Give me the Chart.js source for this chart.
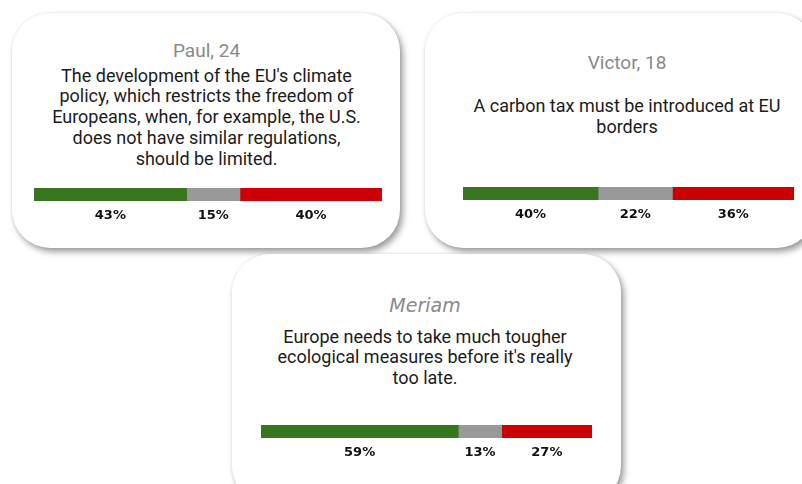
<!DOCTYPE html>
<html>
<head>
<meta charset="utf-8">
<script src="https://cdn.jsdelivr.net/npm/chart.js@4/dist/chart.umd.min.js"></script>
<style>
  html, body { margin:0; padding:0; background:#fff; }
  body { width:802px; height:484px; position:relative; overflow:hidden; font-family:Roboto, sans-serif; }
  .card { position:absolute; background:#fff; border-radius:38px;
          box-shadow: 3px 4px 6px rgba(0,0,0,.38), 0 0 3px rgba(0,0,0,.10); }
  .who  { position:absolute; text-align:center; color:#8a8a8a; font-size:19px; line-height:22px; }
  .says { position:absolute; text-align:center; color:#1c1c1c; font-size:18px; white-space:pre-line; }
  .bar  { position:absolute; }
</style>
</head>
<body>
<div id="root"></div>
<script>
'use strict';

const people     = ['Paul, 24', 'Victor, 18', 'Meriam'];
const statements = [
  "The development of the EU's climate\npolicy, which restricts the freedom of\nEuropeans, when, for example, the U.S.\ndoes not have similar regulations,\nshould be limited.",
  "A carbon tax must be introduced at EU\nborders",
  "Europe needs to take much tougher\necological measures before it's really\ntoo late."
];
const agree    = [43, 40, 59];
const neutral  = [15, 22, 13];
const disagree = [40, 36, 27];

// card layout (page px)
const cards = [
  { left:12,  top:13,  w:388, h:235, cx:194.5, nameTop:26.5, textTop:52.5, lh:20.8, bar:{x:22, y:175, w:348}, font:'Roboto', italic:false },
  { left:425, top:13,  w:390, h:235, cx:202,   nameTop:38.5, textTop:81.5, lh:21.5, bar:{x:38, y:174, w:331}, font:'Roboto', italic:false },
  { left:232, top:254, w:389, h:250, cx:193,   nameTop:39.5, textTop:72.5, lh:20.5, bar:{x:29, y:171, w:331}, font:'DejaVu Sans', italic:true },
];

const segLabels = {
  id: 'segLabels',
  afterDatasetsDraw(chart) {
    const ctx = chart.ctx;
    ctx.save();
    ctx.font = 'bold 13px "DejaVu Sans"';
    ctx.fillStyle = '#111';
    ctx.textAlign = 'center';
    ctx.textBaseline = 'middle';
    chart.data.datasets.forEach((ds, i) => {
      const el = chart.getDatasetMeta(i).data[0];
      if (!el) return;
      ctx.fillText(ds.data[0] + '%', (el.x + el.base) / 2, chart.chartArea.bottom + 15);
    });
    ctx.restore();
  }
};

const root = document.getElementById('root');
cards.forEach((c, i) => {
  const card = document.createElement('div');
  card.className = 'card';
  Object.assign(card.style, { left:c.left+'px', top:c.top+'px', width:c.w+'px', height:c.h+'px' });

  const who = document.createElement('div');
  who.className = 'who';
  who.textContent = people[i];
  Object.assign(who.style, { left:(c.cx-180)+'px', width:'360px', top:c.nameTop+'px',
    fontFamily:c.font, fontStyle:c.italic?'italic':'normal' });

  const says = document.createElement('div');
  says.className = 'says';
  says.textContent = statements[i];
  Object.assign(says.style, { left:(c.cx-185)+'px', width:'370px', top:c.textTop+'px', lineHeight:c.lh+'px' });

  const wrap = document.createElement('div');
  wrap.className = 'bar';
  Object.assign(wrap.style, { left:c.bar.x+'px', top:c.bar.y+'px', width:c.bar.w+'px', height:'40px' });
  const canvas = document.createElement('canvas');
  wrap.appendChild(canvas);

  card.append(who, says, wrap);
  root.appendChild(card);

  const total = agree[i] + neutral[i] + disagree[i];
  new Chart(canvas, {
    type: 'bar',
    data: {
      labels: [''],
      datasets: [
        { data:[agree[i]],    backgroundColor:'#38761d' },
        { data:[neutral[i]],  backgroundColor:'#999999' },
        { data:[disagree[i]], backgroundColor:'#cc0000' },
      ],
    },
    options: {
      indexAxis:'y', responsive:true, maintainAspectRatio:false, animation:false,
      datasets:{ bar:{ barPercentage:1, categoryPercentage:1, borderWidth:0 } },
      layout:{ padding:{ top:0, bottom:27, left:0, right:0 } },
      plugins:{ legend:{display:false}, tooltip:{enabled:false} },
      scales:{
        x:{ stacked:true, min:0, max:total, display:false },
        y:{ stacked:true, display:false },
      },
    },
    plugins:[segLabels],
  });
});
</script>
</body>
</html>
